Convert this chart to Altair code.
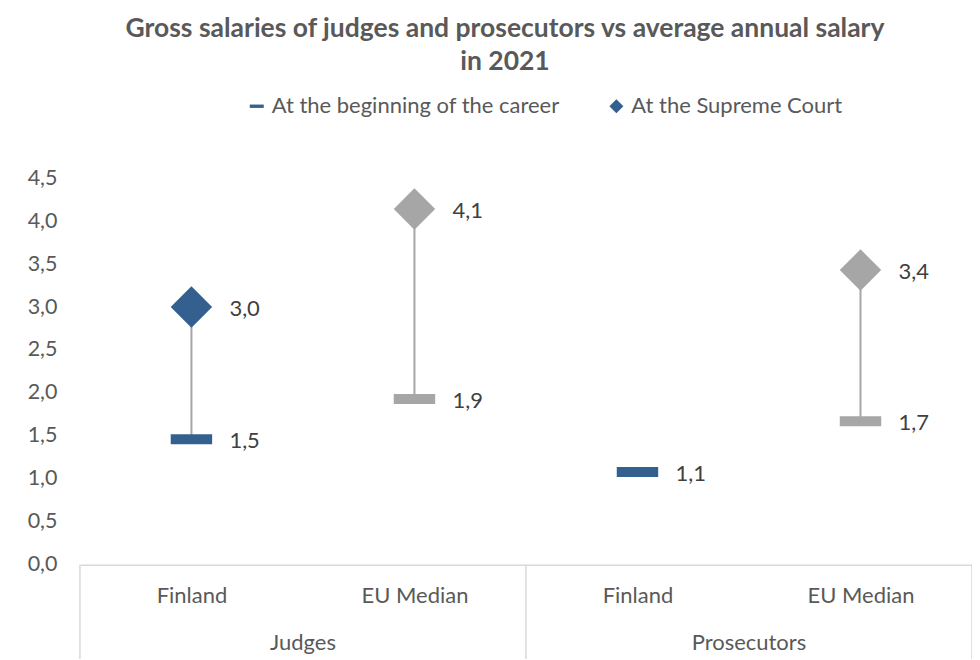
import altair as alt
import pandas as pd

# ---- data ----
categories = ["Finland", "EU Median", "Finland", "EU Median"]
groups = ["Judges", "Judges", "Prosecutors", "Prosecutors"]
begin_values = [1.46, 1.93, 1.08, 1.67]
supreme_values = [3.0, 4.14, None, 3.43]
series_names = ["At the beginning of the career", "At the Supreme Court"]

BLUE = "#34608F"
GRAY = "#A6A6A6"
FONT = "Lato"
FS = 22

rows = []
for i, (c, g, b, s) in enumerate(zip(categories, groups, begin_values, supreme_values)):
    rows.append({"idx": i, "cat": c, "group": g, "series": series_names[0], "value": b})
    if s is not None:
        rows.append({"idx": i, "cat": c, "group": g, "series": series_names[1], "value": s})
points = pd.DataFrame(rows)

ranges = pd.DataFrame([
    {"idx": i, "lo": b, "hi": s}
    for i, (b, s) in enumerate(zip(begin_values, supreme_values)) if s is not None
])

group_names = list(dict.fromkeys(groups))
group_df = pd.DataFrame([
    {"group": g, "center": sum(i for i, gg in enumerate(groups) if gg == g) / groups.count(g)}
    for g in group_names
])
bounds = [-0.5] + [i + 0.5 for i in range(len(groups) - 1) if groups[i] != groups[i + 1]] + [len(groups) - 0.5]
bounds_df = pd.DataFrame({"b": bounds})

W, H = 893, 387
xscale = alt.Scale(domain=[-0.5, len(categories) - 0.5], nice=False, zero=False)
yscale = alt.Scale(domain=[0, 4.5], nice=False)

label_map = "[" + ",".join(f"'{c}'" for c in categories) + "][datum.value]"

bar_path = "M-1,-0.24H1V0.24H-1Z"

base_x = alt.X("idx:Q", scale=xscale,
               axis=alt.Axis(values=list(range(len(categories))), labelExpr=label_map,
                             title=None, ticks=False, grid=False, domain=True,
                             domainColor="#D9D9D9", domainWidth=1.5,
                             labelFont=FONT, labelFontSize=FS, labelColor="#595959",
                             labelPadding=21))
base_y = alt.Y("value:Q", scale=yscale,
               axis=alt.Axis(values=[i * 0.5 for i in range(10)],
                             labelExpr="replace(format(datum.value, '.1f'), '.', ',')",
                             title=None, ticks=False, grid=False, domain=False,
                             labelFont=FONT, labelFontSize=21.5, labelColor="#595959",
                             labelPadding=23))

rules = alt.Chart(ranges).mark_rule(color=GRAY, strokeWidth=2).encode(
    x=alt.X("idx:Q", scale=xscale),
    y=alt.Y("lo:Q", scale=yscale),
    y2="hi:Q",
)

marks = alt.Chart(points).mark_point(filled=True, opacity=1, strokeWidth=0).encode(
    x=base_x,
    y=base_y,
    shape=alt.Shape("series:N",
                    scale=alt.Scale(domain=series_names, range=[bar_path, "diamond"]),
                    legend=alt.Legend(title=None, orient="none", direction="horizontal",
                                      legendX=166, legendY=-83,
                                      labelFont=FONT, labelFontSize=FS, labelColor="#595959",
                                      labelLimit=500,
                                      symbolSize=196, symbolFillColor=BLUE,
                                      symbolStrokeColor=BLUE, symbolStrokeWidth=0,
                                      labelOffset=4, columnPadding=45, padding=0)),
    color=alt.Color("cat:N", scale=alt.Scale(domain=["Finland", "EU Median"], range=[BLUE, GRAY]),
                    legend=None),
    size=alt.value(1720),
)

labels = alt.Chart(points).transform_calculate(
    lbl="replace(format(datum.value, '.1f'), '.', ',')"
).mark_text(align="left", baseline="middle", dx=38, dy=2, font=FONT, fontSize=FS,
            color="#404040").encode(
    x=alt.X("idx:Q", scale=xscale),
    y=alt.Y("value:Q", scale=yscale),
    text="lbl:N",
)

seps = alt.Chart(bounds_df).mark_rule(color="#D9D9D9", strokeWidth=1.5, clip=False).encode(
    x=alt.X("b:Q", scale=xscale),
    y=alt.value(H),
    y2=alt.value(H + 100),
)

group_labels = alt.Chart(group_df).mark_text(baseline="middle", font=FONT, fontSize=FS,
                                             color="#595959").encode(
    x=alt.X("center:Q", scale=xscale),
    y=alt.value(H + 78),
    text="group:N",
)

chart = alt.layer(rules, seps, marks, labels, group_labels).properties(
    width=W, height=H,
    autosize=alt.AutoSizeParams(type="none"),
    padding={"left": 72, "top": 170, "right": 0, "bottom": 94},
    title=alt.TitleParams(
        text=["Gross salaries of judges and prosecutors vs average annual salary", "in 2021"],
        anchor="middle", frame="group", dx=-21, offset=20, font=FONT, fontSize=26.5,
        fontWeight="bold", color="#595959", lineHeight=33),
).configure_view(stroke=None)

chart.save("out.html", embed_options={"renderer": "svg", "actions": False})
